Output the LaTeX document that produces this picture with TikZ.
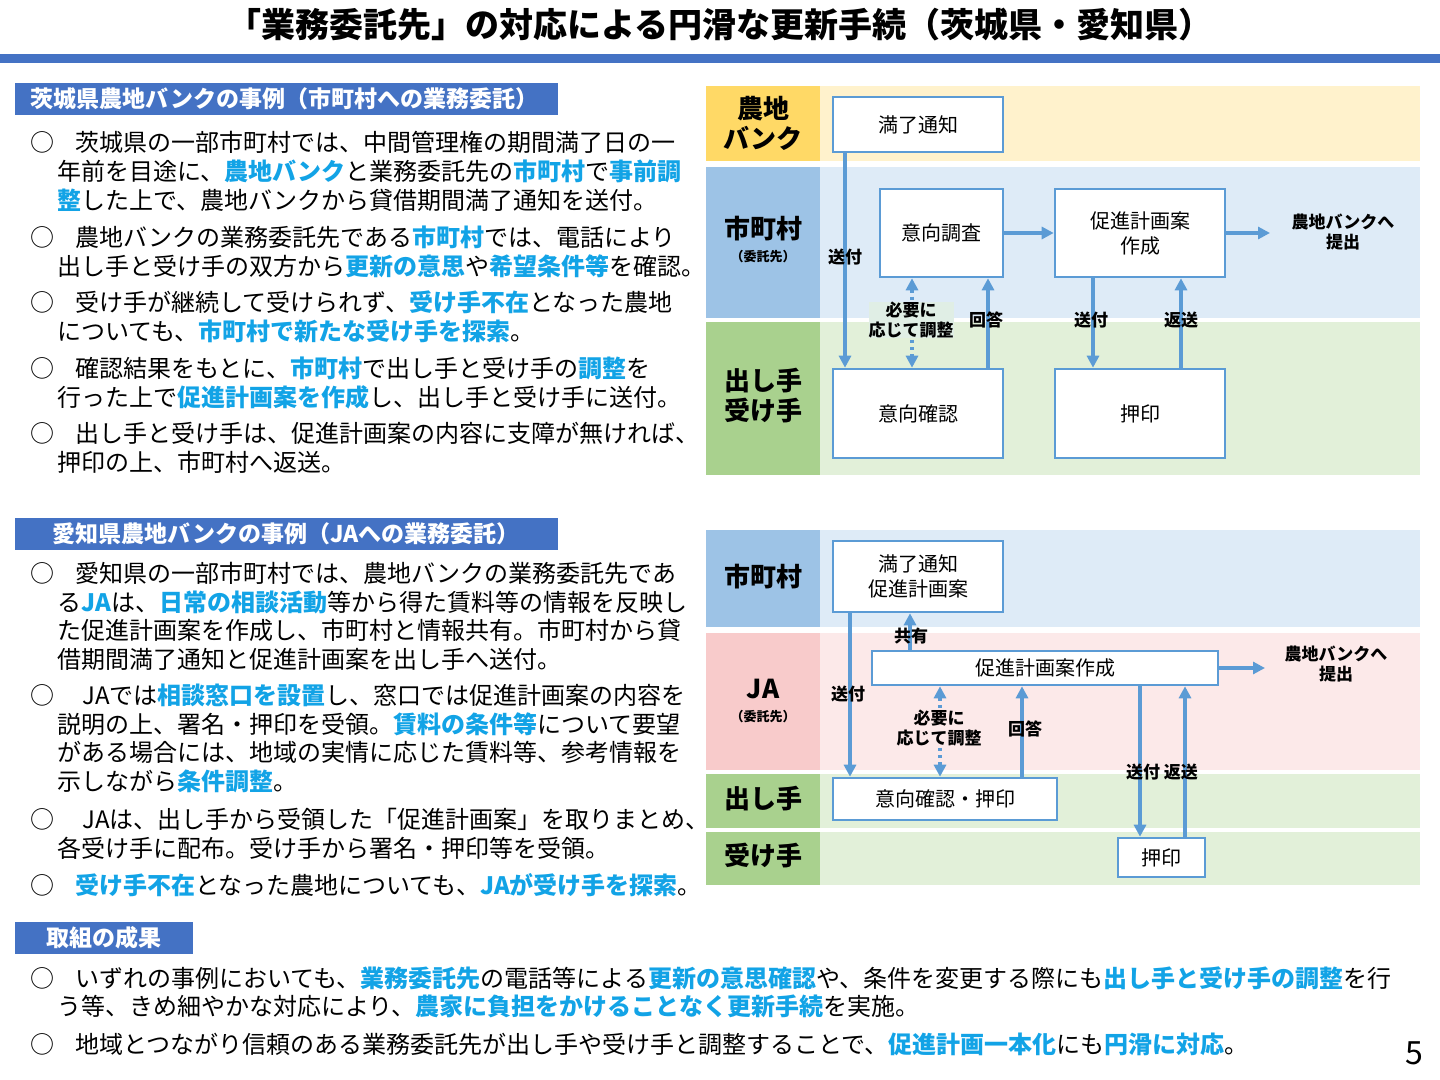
\documentclass[tikz,border=0pt]{standalone}
\usepackage{fontspec}
\setmainfont{Noto Sans CJK JP}
\usetikzlibrary{arrows.meta}
\definecolor{hlc}{HTML}{12A3E6}
\definecolor{barblue}{HTML}{4472C4}
\definecolor{bx}{HTML}{5B9BD5}
\definecolor{ylab}{HTML}{FFD966}\definecolor{ybg}{HTML}{FFF2CC}
\definecolor{blab}{HTML}{9DC3E6}\definecolor{bbg}{HTML}{DEEBF7}
\definecolor{glab}{HTML}{A9D18E}\definecolor{gbg}{HTML}{E2F0D9}
\definecolor{plab}{HTML}{F8CBCB}\definecolor{pbg}{HTML}{FCE9E9}
\newcommand{\hl}[1]{\textbf{\color{hlc}#1}}
\tikzset{
 body/.style={anchor=west,inner sep=0,font=\fontsize{12}{14}\selectfont},
 sec/.style={fill=barblue,text=white,font=\bfseries\fontsize{11.5}{13}\selectfont,inner sep=0,anchor=west},
 lab/.style={font=\bfseries\fontsize{13}{15}\selectfont,align=center,inner sep=0},
 small/.style={font=\bfseries\fontsize{6.5}{8}\selectfont,inner sep=0},
 box/.style={draw=bx,line width=1.3pt,fill=white,align=center,font=\fontsize{10}{12.5}\selectfont,inner sep=0},
 arr/.style={draw=bx,line width=1.6pt,-{Triangle[length=6pt,width=6pt]}},
 dot/.style={draw=bx,line width=1.6pt,dotted,{Triangle[length=6pt,width=6pt]}-{Triangle[length=6pt,width=6pt]}},
 al/.style={font=\bfseries\fontsize{8.5}{10}\selectfont,align=center,inner sep=0},
}
\begin{document}
\begin{tikzpicture}[x=0.5pt,y=-0.5pt]
\useasboundingbox (0,0) rectangle (1440,1080);
\node[font=\bfseries\fontsize{17}{20}\selectfont] (title) at (720,25) {「業務委託先」の対応による円滑な更新手続（茨城県・愛知県）};
\fill[barblue] (0,54) rectangle (1440,63);
% section headers
\node[sec,minimum width=271.5pt,minimum height=16pt,text width=262pt] (s1) at (15,99) {\hspace*{3pt}茨城県農地バンクの事例（市町村への業務委託）};
\node[sec,minimum width=271.5pt,minimum height=16pt,text width=262pt] (s2) at (15,534) {\hspace*{14pt}愛知県農地バンクの事例（JAへの業務委託）};
\node[sec,minimum width=89pt,minimum height=16pt,align=center,text width=89pt] (s3) at (15,938) {取組の成果};
% section 1 text
\foreach \y/\n in {142/c1,237/c2,302/c3,368/c4,433/c5,573/c6,695/c7,819/c8,885/c9,978/c10,1044/c11}
  \node[body] (\n) at (30,\y) {○};
\node[body] (a1) at (75,142) {茨城県の一部市町村では、中間管理権の期間満了日の一};
\node[body] (a2) at (57,171) {年前を目途に、\hl{農地バンク}と業務委託先の\hl{市町村}で\hl{事前調}};
\node[body] (a3) at (57,200) {\hl{整}した上で、農地バンクから貸借期間満了通知を送付。};
\node[body] (a4) at (75,237) {農地バンクの業務委託先である\hl{市町村}では、電話により};
\node[body] (a5) at (57,266) {出し手と受け手の双方から\hl{更新の意思}や\hl{希望条件等}を確認。};
\node[body] (a6) at (75,302) {受け手が継続して受けられず、\hl{受け手不在}となった農地};
\node[body] (a7) at (57,331) {についても、\hl{市町村で新たな受け手を探索}。};
\node[body] (a8) at (75,368) {確認結果をもとに、\hl{市町村}で出し手と受け手の\hl{調整}を};
\node[body] (a9) at (57,397) {行った上で\hl{促進計画案を作成}し、出し手と受け手に送付。};
\node[body] (a10) at (75,433) {出し手と受け手は、促進計画案の内容に支障が無ければ、};
\node[body] (a11) at (57,462) {押印の上、市町村へ返送。};
% section 2 text
\node[body] (b1) at (75,573) {愛知県の一部市町村では、農地バンクの業務委託先であ};
\node[body] (b2) at (57,602) {る\hl{JA}は、\hl{日常の相談活動}等から得た賃料等の情報を反映し};
\node[body] (b3) at (57,630) {た促進計画案を作成し、市町村と情報共有。市町村から貸};
\node[body] (b4) at (57,659) {借期間満了通知と促進計画案を出し手へ送付。};
\node[body] (b5) at (82,695) {JAでは\hl{相談窓口を設置}し、窓口では促進計画案の内容を};
\node[body] (b6) at (57,724) {説明の上、署名・押印を受領。\hl{賃料の条件等}について要望};
\node[body] (b7) at (57,752) {がある場合には、地域の実情に応じた賃料等、参考情報を};
\node[body] (b8) at (57,781) {示しながら\hl{条件調整}。};
\node[body] (b9) at (82,819) {JAは、出し手から受領した「促進計画案」を取りまとめ、};
\node[body] (b10) at (57,848) {各受け手に配布。受け手から署名・押印等を受領。};
\node[body] (b11) at (75,885) {\hl{受け手不在}となった農地についても、\hl{JAが受け手を探索}。};
% bottom text
\node[body] (d1) at (75,978) {いずれの事例においても、\hl{業務委託先}の電話等による\hl{更新の意思確認}や、条件を変更する際にも\hl{出し手と受け手の調整}を行};
\node[body] (d2) at (57,1006) {う等、きめ細やかな対応により、\hl{農家に負担をかけることなく更新手続}を実施。};
\node[body] (d3) at (75,1044) {地域とつながり信頼のある業務委託先が出し手や受け手と調整することで、\hl{促進計画一本化}にも\hl{円滑に対応}。};
\node[font=\fontsize{16}{18}\selectfont,inner sep=0] (pg) at (1414,1053) {5};
% ===== diagram 1 lanes
\fill[ybg] (820,86) rectangle (1420,161); \fill[ylab] (706,86) rectangle (820,161);
\fill[bbg] (820,167) rectangle (1420,318); \fill[blab] (706,167) rectangle (820,318);
\fill[gbg] (820,322) rectangle (1420,475); \fill[glab] (706,322) rectangle (820,475);
\node[lab] (l1) at (763,123) {農地\\バンク};
\node[lab] (l2) at (763,229) {市町村};
\node[small] (l2s) at (763,257) {（委託先）};
\node[lab] (l3) at (763,396) {出し手\\受け手};
\node[box,minimum width=85pt,minimum height=27.5pt] (m1) at (918,124.5) {満了通知};
\node[box,minimum width=61.5pt,minimum height=44pt] (k1) at (941.5,233) {意向調査};
\node[box,minimum width=85pt,minimum height=44pt] (p1) at (1140,233) {促進計画案\\作成};
\node[box,minimum width=85pt,minimum height=44.5pt] (i1) at (918,413.5) {意向確認};
\node[box,minimum width=85pt,minimum height=44.5pt] (o1) at (1140,413.5) {押印};
\draw[arr] (845,0 |- m1.south) -- (845,0 |- i1.north);
\node[al] (t1) at (845,257) {送付};
\draw[dot] (912,0 |- k1.south) -- (912,0 |- i1.north);
\node[al,fill=bbg!40!gbg] (t2) at (911,320) {必要に\\応じて調整};
\draw[arr] (988,0 |- i1.north) -- (988,0 |- k1.south);
\node[al] (t3) at (986,320) {回答};
\draw[arr] (k1.east) -- (p1.west);
\coordinate (e1) at (1270,233);
\draw[arr] (p1.east) -- (e1);
\node[al] (t4) at (1343,232) {農地バンクへ\\提出};
\draw[arr] (1093,0 |- p1.south) -- (1093,0 |- o1.north);
\node[al] (t5) at (1091,320) {送付};
\draw[arr] (1181,0 |- o1.north) -- (1181,0 |- p1.south);
\node[al] (t6) at (1181,320) {返送};
% ===== diagram 2 lanes
\fill[bbg] (820,530) rectangle (1420,627); \fill[blab] (706,530) rectangle (820,627);
\fill[pbg] (820,633) rectangle (1420,770); \fill[plab] (706,633) rectangle (820,770);
\fill[gbg] (820,774) rectangle (1420,828); \fill[glab] (706,774) rectangle (820,828);
\fill[gbg] (820,832) rectangle (1420,885); \fill[glab] (706,832) rectangle (820,885);
\node[lab] (n1) at (763,577) {市町村};
\node[lab] (n2) at (763,689) {JA};
\node[small] (n2s) at (763,717) {（委託先）};
\node[lab] (n3) at (763,799) {出し手};
\node[lab] (n4) at (763,856) {受け手};
\node[box,minimum width=85pt,minimum height=35.5pt] (m2) at (918,576.5) {満了通知\\促進計画案};
\node[box,minimum width=173pt,minimum height=17pt] (p2) at (1045,668) {促進計画案作成};
\node[box,minimum width=112pt,minimum height=21pt] (i2) at (945,799) {意向確認・押印};
\node[box,minimum width=43.5pt,minimum height=19.5pt] (o2) at (1161.5,857.5) {押印};
\draw[arr] (850,0 |- m2.south) -- (850,0 |- i2.north);
\node[al] (u1) at (848,694) {送付};
\draw[arr] (910,0 |- p2.north) -- (910,0 |- m2.south);
\node[al] (u2) at (911,636) {共有};
\draw[dot] (940,0 |- p2.south) -- (940,0 |- i2.north);
\node[al,fill=pbg] (u3) at (939,728) {必要に\\応じて調整};
\draw[arr] (1022,0 |- i2.north) -- (1022,0 |- p2.south);
\node[al] (u4) at (1025,729) {回答};
\coordinate (e2) at (1265,668);
\draw[arr] (p2.east) -- (e2);
\node[al] (u5) at (1336,664) {農地バンクへ\\提出};
\draw[arr] (1140,0 |- p2.south) -- (1140,0 |- o2.north);
\draw[arr] (1185,0 |- o2.north) -- (1185,0 |- p2.south);
\node[al] (u6) at (1162,772) {送付 返送};
\end{tikzpicture}
\end{document}
